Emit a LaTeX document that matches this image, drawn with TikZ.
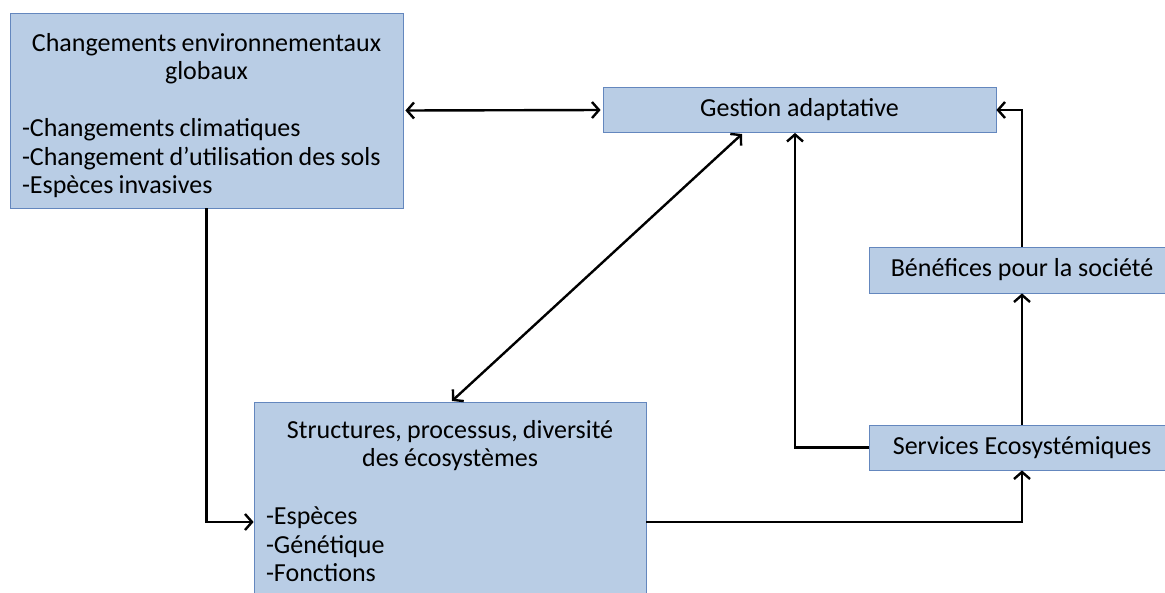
\documentclass[tikz,border=0pt]{standalone}
\usepackage{fontspec}
\setmainfont{Carlito}
\usetikzlibrary{arrows.meta}
\definecolor{boxfill}{RGB}{185,205,229}
\definecolor{boxline}{RGB}{100,135,190}
\tikzset{
  boxtext/.style={inner xsep=12pt, inner ysep=0pt, font=\fontsize{26}{28.5}\selectfont},
  box/.style={boxtext, draw=boxline, line width=0.8pt, fill=boxfill},
  arr/.style={line width=2.4pt, -{Straight Barb[length=7pt,width=16pt]}},
  darr/.style={line width=2.4pt, {Straight Barb[length=7pt,width=16pt]}-{Straight Barb[length=7pt,width=16pt]}}
}
\begin{document}
\begin{tikzpicture}[x=1pt,y=-1pt]
\useasboundingbox (0,0) rectangle (1165,592);
\clip (0,0) rectangle (1165,592);
\node[box, minimum width=393pt, minimum height=195pt] (env) at (206.5,110.5) {};
\node[boxtext, text width=369pt] (envtxt) at (206.5,115.5)
  {\spaceskip=0.2em\relax
   {\centering \mbox{Changements environnementaux}\\ globaux\par}\vspace{28.5pt}
   {\raggedright \mbox{-Changements climatiques}\\ \mbox{-Changement d’utilisation des sols}\\ \mbox{-Espèces invasives}\par}};
\node[box, minimum width=393pt, minimum height=45pt] (gest) at (799.5,110) {Gestion adaptative};
\node[box, text width=368pt, minimum height=198pt] (struct) at (450,501)
  {\spaceskip=0.2em\relax
   {\centering \mbox{Structures, processus, diversité}\\ des écosystèmes\par}\vspace{29.5pt}
   {\raggedright -Espèces\\ -Génétique\\ -Fonctions\par}};
\node[box, minimum width=306pt, minimum height=46pt] (ben) at (1022,270) {Bénéfices pour la société};
\node[box, minimum width=306pt, minimum height=45pt] (serv) at (1022,447.5) {Services Ecosystémiques};
\coordinate (d1) at (742,134);
\coordinate (d2) at (452,401);
\draw[darr, shorten <=2pt, shorten >=2pt] (env.east) -- (gest.west);
\draw[darr] (d1) -- (d2);
\draw[arr] (serv.west) -| ([xshift=-4.5pt]gest.south);
\draw[arr] (ben.north) |- (gest.east);
\draw[arr] (serv.north) -- (ben.south);
\draw[arr] (env.south) |- ([yshift=-21pt]struct.west);
\draw[arr] ([yshift=-21pt]struct.east) -| (serv.south);
\end{tikzpicture}
\end{document}
